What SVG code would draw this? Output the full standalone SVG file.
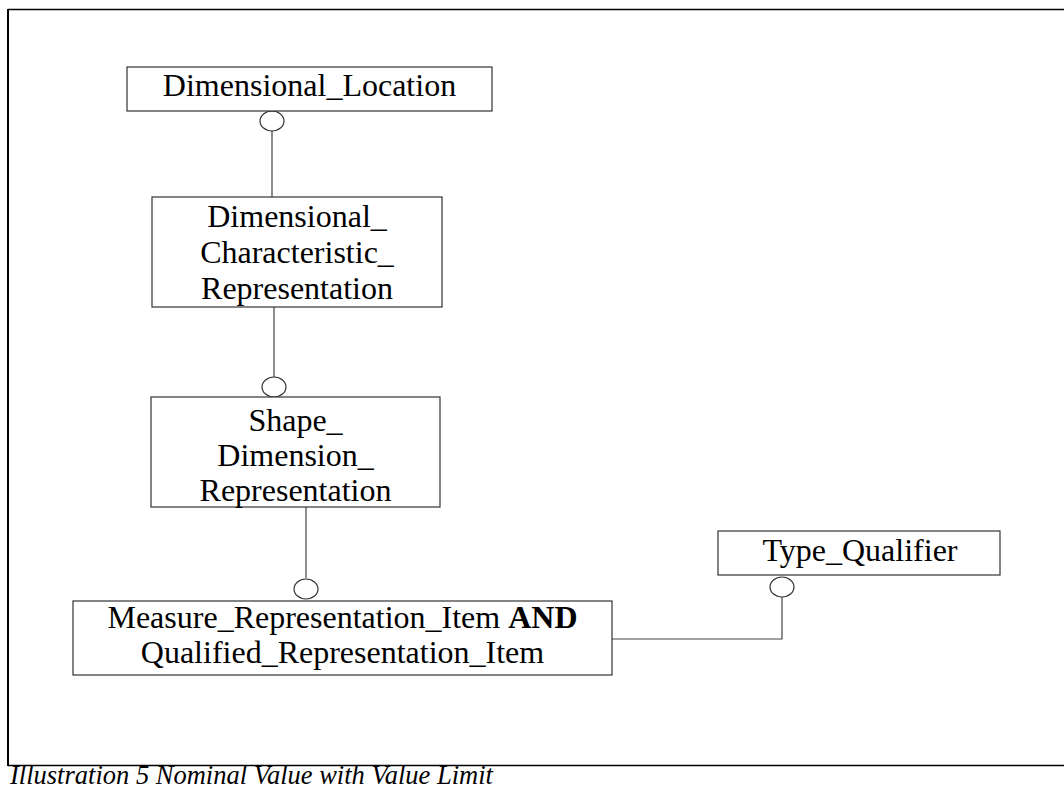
<svg xmlns="http://www.w3.org/2000/svg" width="1064" height="790" viewBox="0 0 1064 790">
<style>
.box{fill:#fff;stroke:#333;stroke-width:1.2}
.t{font-family:"Liberation Serif","Times New Roman",serif;font-size:32px;fill:#000;text-anchor:middle}
.c{fill:none;stroke:#333;stroke-width:1.2}
.ln{fill:none;stroke:#444;stroke-width:1.2}
.cap{font-family:"Liberation Serif","Times New Roman",serif;font-size:26.5px;font-style:italic;fill:#000}
</style>
<rect width="1064" height="790" fill="#fff"/>
<g id="frame">
<line x1="8" y1="9.5" x2="1064" y2="9.5" stroke="#000" stroke-width="1.3"/>
<line x1="8" y1="9" x2="8" y2="766" stroke="#000" stroke-width="2"/>
<line x1="8" y1="765.5" x2="1064" y2="765.5" stroke="#000" stroke-width="1.3"/>
</g>
<g id="connectors">
<line class="ln" x1="272" y1="131" x2="272" y2="197"/>
<ellipse class="c" cx="272" cy="121" rx="12" ry="10"/>
<line class="ln" x1="274" y1="307" x2="274" y2="377"/>
<ellipse class="c" cx="274" cy="387" rx="12" ry="10"/>
<line class="ln" x1="306" y1="507" x2="306" y2="578"/>
<ellipse class="c" cx="306" cy="589" rx="12" ry="10"/>
<polyline class="ln" points="612,639 782,639 782,597"/>
<ellipse class="c" cx="782" cy="587" rx="12" ry="10"/>
</g>
<g id="dimensional_location">
<rect class="box" x="127" y="67" width="365" height="44"/>
<text class="t" x="309.5" y="96">Dimensional_Location</text>
</g>
<g id="dimensional_characteristic_representation">
<rect class="box" x="152" y="197" width="290" height="110"/>
<text class="t" x="297" y="227">Dimensional_</text>
<text class="t" x="297" y="263">Characteristic_</text>
<text class="t" x="297" y="299">Representation</text>
</g>
<g id="shape_dimension_representation">
<rect class="box" x="151" y="397" width="289" height="110"/>
<text class="t" x="295.5" y="431">Shape_</text>
<text class="t" x="295.5" y="466">Dimension_</text>
<text class="t" x="295.5" y="501">Representation</text>
</g>
<g id="measure_representation_item">
<rect class="box" x="73" y="601" width="539" height="74"/>
<text class="t" x="342.5" y="628">Measure_Representation_Item <tspan font-weight="bold">AND</tspan></text>
<text class="t" x="342.5" y="663">Qualified_Representation_Item</text>
</g>
<g id="type_qualifier">
<rect class="box" x="718" y="531" width="282" height="44"/>
<text class="t" x="860" y="561">Type_Qualifier</text>
</g>
<text class="cap" x="10" y="784">Illustration 5 Nominal Value with Value Limit</text>
</svg>
